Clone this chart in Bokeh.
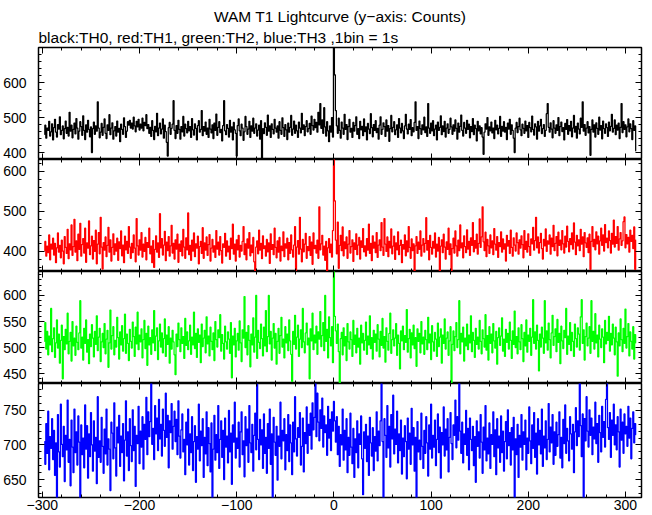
import numpy as np
from bokeh.plotting import figure
from bokeh.layouts import column
from bokeh.models import Range1d, FixedTicker, LinearAxis, Title, Grid
from bokeh.embed import file_html
from bokeh.resources import INLINE

# ---------------- data (counts per 1 s bin, first bin centred at t = -298 s) ----------------
t_start = -298

th0 = [
452, 478, 441, 470, 463, 489, 447, 459, 482, 436,
471, 495, 458, 444, 480, 467, 502, 451, 463, 476,
439, 468, 490, 455, 472, 447, 515, 461, 478, 442,
466, 484, 453, 497, 470, 438, 461, 488, 474, 449,
505, 463, 437, 479, 458, 492, 466, 445, 473, 400,
468, 487, 452, 476, 461, 545, 470, 442, 458, 483,
449, 472, 496, 455, 440, 479, 463, 508, 451, 470,
485, 438, 462, 474, 447, 490, 458, 469, 431, 481,
466, 452, 499, 474, 443, 461, 488, 478, 492, 470,
484, 467, 501, 476, 459, 489, 473, 495, 464, 481,
470, 498, 462, 486, 477, 508, 468, 480, 455, 472,
446, 491, 463, 437, 475, 459, 512, 448, 470, 484,
453, 467, 496, 441, 478, 460, 429, 390, 471, 486,
452, 469, 481, 548, 463, 440, 477, 455, 492, 466,
438, 474, 459, 503, 447, 481, 468, 456, 489, 462,
474, 443, 497, 465, 450, 482, 469, 436, 477, 491,
458, 466, 520, 448, 474, 461, 487, 452, 470, 443,
495, 467, 456, 479, 440, 484, 463, 510, 449, 472,
488, 457, 466, 433, 477, 548, 462, 451, 480, 469,
444, 492, 458, 473, 436, 486, 465, 455, 390, 477,
496, 462, 448, 481, 470, 435, 459, 503, 474, 452,
467, 489, 443, 476, 461, 498, 455, 470, 482, 447,
464, 478, 438, 491, 383, 468, 454, 485, 472, 449,
507, 461, 476, 443, 482, 466, 453, 495, 470, 458,
476, 441, 488, 463, 452, 499, 471, 446, 480, 465,
437, 484, 458, 472, 506, 449, 467, 490, 455, 478,
462, 443, 487, 470, 456, 512, 466, 479, 448, 474,
491, 459, 468, 483, 452, 504, 477, 464, 495, 471,
486, 458, 515, 479, 540, 469, 493, 455, 528, 473,
447, 488, 462, 431, 476, 458, 500, 444, 720, 622,
520, 476, 455, 498, 463, 441, 487, 470, 452, 509,
466, 480, 437, 474, 495, 458, 469, 443, 486, 461,
477, 502, 452, 468, 440, 489, 465, 475, 448, 496,
460, 473, 436, 483, 467, 454, 511, 471, 445, 480,
463, 491, 457, 469, 438, 478, 502, 452, 466, 485,
474, 446, 493, 461, 477, 432, 468, 506, 459, 472,
488, 451, 465, 479, 443, 497, 470, 456, 483, 462,
440, 476, 509, 467, 453, 481, 466, 494, 448, 471,
459, 486, 545, 463, 474, 440, 490, 468, 452, 479,
465, 501, 457, 473, 446, 540, 470, 455, 484, 462,
491, 448, 467, 478, 436, 487, 463, 472, 505, 451,
476, 460, 489, 444, 470, 482, 455, 466, 498, 473,
452, 479, 461, 493, 469, 438, 484, 458, 475, 507,
463, 447, 486, 470, 455, 492, 466, 481, 442, 474,
460, 497, 451, 478, 468, 433, 489, 462, 476, 453,
471, 444, 395, 458, 482, 467, 500, 449, 473, 462,
487, 456, 470, 440, 492, 465, 478, 453, 469, 503,
446, 475, 461, 488, 458, 472, 437, 484, 467, 495,
452, 479, 463, 441, 400, 470, 486, 457, 474, 498,
465, 448, 481, 469, 455, 490, 462, 477, 443, 486,
471, 459, 504, 466, 450, 482, 473, 438, 489, 461,
476, 495, 454, 468, 480, 446, 463, 511, 540, 472,
458, 485, 467, 442, 491, 470, 455, 479, 463, 500,
448, 474, 487, 460, 471, 436, 483, 466, 494, 452,
477, 462, 489, 445, 470, 506, 458, 475, 441, 484,
467, 453, 498, 472, 545, 461, 480, 449, 470, 488,
456, 474, 392, 466, 493, 458, 479, 444, 485, 469,
452, 501, 464, 477, 439, 490, 468, 455, 482, 471,
446, 487, 462, 475, 509, 458, 469, 493, 451, 478,
464, 484, 440, 472, 540, 457, 488, 466, 479, 445,
473, 496, 459, 482, 468, 437, 491, 463, 476, 405,
]

th1 = [
402, 425, 388, 413, 397, 441, 379, 418, 406, 433,
391, 420, 372, 409, 446, 398, 415, 384, 428, 401,
369, 437, 410, 395, 455, 382, 419, 404, 466, 390,
412, 480, 398, 426, 377, 443, 405, 470, 388, 417,
432, 396, 458, 373, 421, 408, 476, 392, 414, 438,
381, 427, 400, 453, 369, 418, 447, 394, 485, 411,
356, 422, 403, 436, 387, 415, 460, 398, 429, 376,
410, 444, 392, 419, 401, 433, 378, 424, 407, 451,
389, 416, 372, 438, 404, 425, 395, 462, 411, 383,
420, 397, 441, 408, 374, 482, 414, 391, 429, 403,
447, 386, 418, 400, 435, 379, 422, 410, 458, 394,
413, 372, 427, 360, 405, 439, 398, 421, 385, 494,
409, 432, 391, 416, 450, 377, 423, 402, 437, 388,
414, 465, 396, 420, 381, 429, 406, 443, 373, 418,
400, 426, 389, 455, 411, 383, 434, 404, 496, 392,
415, 378, 428, 401, 446, 387, 419, 408, 438, 369,
412, 425, 395, 459, 383, 421, 403, 436, 390, 417,
442, 376, 408, 430, 398, 414, 385, 452, 406, 423,
391, 437, 402, 371, 419, 410, 445, 388, 426, 399,
413, 380, 433, 407, 468, 393, 418, 376, 429, 404,
440, 386, 415, 401, 425, 462, 392, 419, 379, 431,
408, 447, 389, 416, 397, 435, 374, 348, 411, 426,
394, 453, 403, 420, 382, 439, 407, 414, 388, 430,
399, 421, 370, 444, 405, 417, 392, 458, 410, 384,
426, 398, 435, 376, 413, 402, 449, 387, 419, 408,
433, 379, 422, 395, 441, 404, 386, 416, 462, 352,
411, 427, 393, 485, 406, 374, 430, 399, 418, 445,
383, 412, 402, 437, 390, 423, 368, 446, 407, 415,
396, 428, 383, 511, 404, 419, 440, 391, 413, 378,
425, 350, 409, 432, 397, 418, 386, 452, 650, 526,
428, 394, 473, 358, 415, 440, 402, 461, 389, 424,
407, 436, 383, 418, 452, 396, 412, 429, 375, 421,
405, 444, 392, 416, 435, 381, 426, 410, 457, 399,
414, 388, 432, 403, 468, 395, 420, 377, 439, 408,
423, 397, 447, 385, 416, 429, 402, 472, 411, 390,
482, 418, 400, 436, 387, 425, 409, 456, 394, 413,
438, 380, 421, 404, 449, 392, 415, 428, 372, 417,
406, 441, 389, 426, 399, 462, 410, 383, 431, 402,
419, 350, 414, 437, 395, 423, 405, 451, 388, 416,
432, 398, 420, 484, 403, 427, 379, 440, 410, 393,
425, 408, 446, 386, 418, 401, 435, 350, 413, 429,
397, 443, 411, 381, 424, 405, 458, 392, 419, 350,
407, 433, 396, 451, 414, 388, 428, 402, 466, 409,
421, 384, 439, 412, 397, 454, 406, 425, 390, 434,
415, 472, 399, 427, 408, 443, 393, 420, 481, 410,
436, 511, 424, 402, 448, 387, 430, 414, 395, 441,
409, 426, 392, 457, 418, 403, 437, 385, 422, 412,
449, 398, 431, 406, 419, 376, 440, 413, 427, 395,
453, 410, 388, 434, 416, 401, 446, 422, 393, 429,
408, 439, 417, 384, 452, 405, 425, 398, 444, 412,
390, 431, 419, 460, 403, 427, 485, 409, 436, 396,
422, 445, 407, 381, 430, 414, 456, 400, 426, 418,
441, 393, 433, 412, 465, 402, 420, 437, 389, 448,
415, 428, 404, 452, 419, 396, 438, 411, 463, 425,
399, 432, 417, 446, 406, 471, 423, 392, 440, 414,
429, 402, 455, 418, 436, 387, 447, 421, 410, 434,
397, 443, 355, 425, 462, 412, 430, 404, 449, 419,
438, 393, 426, 458, 415, 441, 401, 467, 422, 433,
409, 451, 427, 396, 445, 418, 478, 411, 437, 420,
462, 403, 431, 447, 415, 426, 474, 486, 409, 442,
419, 435, 398, 453, 425, 440, 407, 461, 355, 428,
]

th2 = [
512, 548, 497, 531, 486, 522, 505, 575, 492, 517,
538, 481, 509, 553, 499, 526, 470, 514, 543, 440,
521, 496, 535, 507, 566, 488, 512, 529, 474, 550,
503, 518, 485, 541, 510, 496, 528, 590, 499, 520,
476, 537, 508, 553, 491, 515, 469, 526, 502, 544,
518, 482, 531, 506, 561, 494, 520, 537, 473, 511,
527, 500, 546, 488, 516, 533, 462, 509, 572, 497,
523, 540, 486, 514, 501, 558, 519, 478, 530, 505,
542, 493, 517, 564, 489, 526, 508, 475, 535, 512,
499, 549, 521, 483, 539, 507, 568, 496, 524, 511,
536, 480, 515, 552, 498, 527, 466, 541, 505, 519,
487, 534, 509, 571, 494, 522, 538, 477, 513, 545,
501, 528, 490, 517, 555, 483, 524, 506, 540, 470,
518, 497, 533, 511, 486, 448, 526, 502, 547, 515,
492, 538, 508, 521, 479, 556, 504, 530, 496, 513,
543, 487, 520, 505, 568, 498, 527, 481, 536, 510,
524, 471, 545, 502, 518, 533, 490, 559, 507, 522,
484, 539, 512, 496, 528, 475, 550, 515, 501, 534,
519, 563, 493, 525, 508, 478, 541, 511, 497, 530,
516, 489, 548, 442, 522, 505, 537, 482, 513, 527,
495, 551, 509, 473, 534, 518, 598, 500, 529, 486,
542, 514, 463, 526, 505, 557, 491, 520, 600, 479,
533, 510, 498, 545, 517, 484, 539, 503, 571, 492,
521, 600, 507, 531, 476, 518, 546, 499, 527, 468,
512, 537, 489, 523, 558, 501, 516, 480, 540, 509,
526, 494, 553, 513, 487, 435, 531, 506, 562, 497,
520, 543, 483, 516, 534, 500, 575, 511, 490, 528,
547, 505, 518, 440, 536, 513, 566, 496, 524, 509,
541, 487, 530, 516, 569, 502, 523, 548, 494, 600,
512, 535, 480, 559, 519, 503, 540, 471, 660, 560,
532, 508, 545, 492, 420, 517, 529, 486, 538, 503,
521, 475, 546, 511, 497, 530, 515, 483, 552, 506,
524, 490, 537, 501, 518, 468, 543, 509, 527, 495,
514, 549, 487, 522, 505, 561, 498, 519, 478, 533,
510, 526, 493, 544, 516, 482, 531, 504, 556, 499,
521, 472, 538, 512, 495, 527, 566, 489, 515, 534,
503, 518, 546, 485, 524, 508, 459, 532, 513, 541,
496, 523, 510, 573, 491, 517, 535, 480, 528, 505,
543, 498, 519, 464, 536, 512, 527, 490, 550, 507,
520, 487, 533, 515, 496, 558, 509, 526, 477, 542,
511, 493, 529, 516, 483, 547, 502, 520, 536, 470,
524, 508, 555, 497, 518, 530, 485, 513, 540, 425,
506, 532, 494, 521, 548, 500, 515, 590, 488, 527,
511, 539, 474, 518, 503, 545, 496, 524, 509, 561,
492, 529, 514, 481, 537, 506, 520, 497, 552, 512,
488, 534, 517, 501, 563, 495, 523, 476, 540, 508,
526, 490, 546, 513, 499, 531, 468, 519, 538, 504,
522, 557, 493, 516, 483, 535, 510, 527, 497, 549,
514, 479, 532, 506, 570, 500, 521, 488, 538, 511,
496, 544, 517, 473, 529, 503, 553, 491, 524, 512,
537, 485, 520, 592, 508, 530, 497, 543, 514, 455,
526, 501, 539, 518, 489, 590, 509, 532, 495, 547,
515, 480, 528, 562, 504, 521, 536, 492, 554, 510,
527, 469, 541, 513, 498, 533, 519, 575, 487, 522,
506, 548, 494, 529, 512, 483, 545, 517, 501, 538,
526, 495, 559, 592, 508, 534, 476, 521, 547, 503,
518, 540, 489, 590, 512, 531, 497, 565, 509, 524,
482, 543, 516, 500, 536, 520, 471, 552, 507, 529,
514, 560, 493, 527, 505, 545, 518, 486, 539, 511,
445, 528, 503, 555, 515, 492, 537, 508, 574, 499,
521, 546, 484, 530, 512, 497, 540, 478, 525, 509,
]

th3 = [
705, 672, 731, 688, 749, 664, 712, 695, 738, 679,
721, 656, 703, 618, 744, 690, 668, 759, 701, 683,
727, 647, 714, 693, 765, 675, 708, 641, 736, 697,
660, 752, 689, 719, 671, 742, 704, 615, 729, 686,
710, 667, 758, 694, 728, 652, 716, 683, 747, 700,
662, 735, 691, 711, 644, 770, 682, 706, 675, 740,
698, 659, 723, 687, 752, 671, 709, 694, 634, 733,
717, 680, 761, 696, 655, 726, 703, 743, 669, 713,
689, 731, 648, 707, 764, 684, 719, 663, 738, 699,
676, 751, 692, 727, 640, 714, 702, 756, 673, 720,
697, 741, 665, 730, 708, 769, 686, 748, 712, 734,
790, 701, 724, 679, 757, 716, 739, 692, 766, 709,
730, 684, 752, 721, 698, 775, 711, 743, 667, 735,
718, 760, 694, 727, 749, 705, 737, 686, 764, 713,
681, 722, 745, 690, 708, 657, 733, 700, 752, 671,
716, 689, 741, 663, 705, 728, 646, 712, 694, 759,
677, 720, 699, 738, 653, 711, 687, 748, 670, 725,
702, 661, 732, 618, 694, 743, 678, 715, 689, 757,
666, 708, 735, 682, 721, 650, 739, 697, 713, 674,
750, 690, 717, 643, 729, 704, 762, 681, 710, 695,
733, 668, 719, 748, 686, 706, 654, 741, 699, 723,
675, 757, 703, 689, 730, 662, 714, 746, 693, 788,
708, 679, 737, 700, 722, 666, 745, 688, 711, 659,
731, 695, 752, 672, 716, 617, 740, 704, 685, 727,
649, 713, 698, 762, 680, 721, 706, 738, 664, 715,
692, 744, 676, 729, 703, 657, 733, 690, 770, 709,
684, 725, 711, 747, 671, 698, 739, 661, 718, 702,
755, 688, 730, 714, 746, 694, 761, 722, 740, 790,
712, 775, 733, 706, 751, 724, 768, 697, 742, 718,
729, 685, 756, 710, 737, 692, 748, 720, 763, 735,
704, 741, 686, 727, 669, 715, 700, 752, 678, 721,
693, 738, 660, 711, 685, 746, 697, 673, 724, 653,
709, 689, 735, 667, 716, 701, 742, 680, 628, 719,
695, 730, 676, 713, 656, 740, 703, 684, 725, 663,
712, 691, 748, 677, 720, 699, 735, 789, 705, 620,
738, 714, 682, 757, 696, 727, 668, 744, 709, 772,
687, 723, 701, 749, 674, 716, 692, 736, 658, 710,
683, 728, 705, 651, 739, 694, 717, 672, 753, 700,
725, 662, 711, 621, 734, 690, 707, 679, 746, 698,
666, 721, 688, 741, 703, 655, 729, 694, 759, 681,
714, 697, 736, 670, 708, 745, 689, 726, 652, 718,
700, 755, 684, 723, 693, 738, 661, 711, 747, 702,
679, 729, 714, 765, 696, 741, 707, 790, 720, 688,
733, 674, 716, 701, 750, 685, 724, 664, 739, 708,
692, 727, 670, 712, 646, 735, 698, 719, 681, 744,
704, 659, 726, 693, 757, 677, 710, 687, 732, 666,
715, 701, 748, 683, 722, 657, 738, 696, 713, 675,
742, 689, 720, 662, 705, 734, 680, 751, 699, 718,
671, 725, 693, 740, 622, 709, 686, 730, 653, 714,
697, 744, 678, 719, 701, 736, 664, 710, 688, 755,
706, 673, 729, 695, 747, 682, 717, 658, 738, 700,
721, 687, 752, 669, 713, 696, 735, 679, 708, 760,
690, 726, 703, 744, 672, 719, 685, 733, 698, 715,
748, 681, 711, 667, 737, 702, 758, 688, 724, 706,
677, 741, 716, 694, 730, 660, 719, 754, 699, 735,
712, 790, 728, 683, 745, 623, 738, 706, 770, 720,
697, 751, 714, 739, 686, 726, 709, 762, 702, 731,
675, 743, 718, 690, 756, 711, 734, 697, 766, 790,
725, 708, 747, 682, 736, 714, 759, 700, 729, 693,
741, 719, 668, 752, 707, 733, 688, 745, 716, 727,
698, 756, 710, 739, 680, 724, 748, 703, 731, 715,
]

x_major = [-300, -200, -100, 0, 100, 200, 300]
x_minor = list(range(-300, 320, 20))
x_labels = {-300: "\u2212300", -200: "\u2212200", -100: "\u2212100"}

panels = [
    dict(vals=th0, color="#000000", yr=(380, 700), major=[400, 500, 600], minor=list(range(380, 720, 20))),
    dict(vals=th1, color="#ff0000", yr=(350, 629), major=[400, 500, 600], minor=list(range(340, 640, 20))),
    dict(vals=th2, color="#00ff00", yr=(431, 646), major=[450, 500, 550, 600], minor=list(range(430, 650, 10))),
    dict(vals=th3, color="#0000ff", yr=(624, 789), major=[650, 700, 750], minor=list(range(620, 790, 10))),
]

FONT = "Liberation Sans"
W = 652
FRAME_H = [112, 112, 112, 114]
TOP = 47
BOTTOM = 17
LEFT = 37
RIGHT = 11


def style_axis(ax, labels, standoff=3):
    ax.axis_line_color = None
    ax.major_tick_in = 6
    ax.major_tick_out = 0
    ax.minor_tick_in = 3
    ax.minor_tick_out = 0
    ax.major_tick_line_color = "black"
    ax.minor_tick_line_color = "black"
    ax.major_tick_line_width = 1
    ax.minor_tick_line_width = 1
    ax.axis_label = None
    if labels:
        ax.major_label_text_font = FONT
        ax.major_label_text_font_size = "14px"
        ax.major_label_text_color = "black"
        ax.major_label_standoff = standoff
    else:
        ax.major_label_text_color = None
        ax.major_label_text_font_size = "0px"
        ax.major_label_standoff = 0


figs = []
for k, pn in enumerate(panels):
    first = k == 0
    last = k == len(panels) - 1
    h = FRAME_H[k] + (TOP if first else 0) + (BOTTOM if last else 0)
    p = figure(width=W, height=h,
               x_range=Range1d(-304, 316.5), y_range=Range1d(*pn["yr"]),
               output_backend="svg", toolbar_location=None,
               x_axis_location=None, y_axis_location=None,
               min_border_left=LEFT, min_border_right=RIGHT,
               min_border_top=TOP if first else 0,
               min_border_bottom=BOTTOM if last else 0)
    p.center = [c for c in p.center if not isinstance(c, Grid)]
    p.background_fill_color = "white"
    p.border_fill_color = "white"
    p.outline_line_color = "black"
    p.outline_line_width = 1.5
    p.outline_line_alpha = 1.0

    x = t_start + np.arange(len(pn["vals"]))
    p.step(x, pn["vals"], mode="center", line_color=pn["color"], line_width=1.25)

    xt = FixedTicker(ticks=x_major, minor_ticks=x_minor)
    yt = FixedTicker(ticks=pn["major"], minor_ticks=pn["minor"])

    below = LinearAxis(ticker=xt)
    style_axis(below, last, standoff=2)
    if last:
        below.major_label_overrides = x_labels
    p.add_layout(below, "below")

    above = LinearAxis(ticker=xt)
    style_axis(above, False)
    p.add_layout(above, "above")

    left = LinearAxis(ticker=yt)
    style_axis(left, True, standoff=12)
    p.add_layout(left, "left")

    right = LinearAxis(ticker=yt)
    style_axis(right, False)
    p.add_layout(right, "right")

    if first:
        sub = Title(text="black:TH0, red:TH1, green:TH2, blue:TH3 ,1bin = 1s",
                    align="left", text_font=FONT, text_font_size="15.5px",
                    text_font_style="normal", text_color="black", standoff=4)
        p.add_layout(sub, "above")
        main = Title(text="WAM T1 Lightcurve (y\u2212axis: Counts)",
                     align="center", text_font=FONT, text_font_size="15.5px",
                     text_font_style="normal", text_color="black", standoff=0)
        p.add_layout(main, "above")
    figs.append(p)

layout = column(*figs, spacing=0)
open("out.html", "w").write(file_html(layout, INLINE))
